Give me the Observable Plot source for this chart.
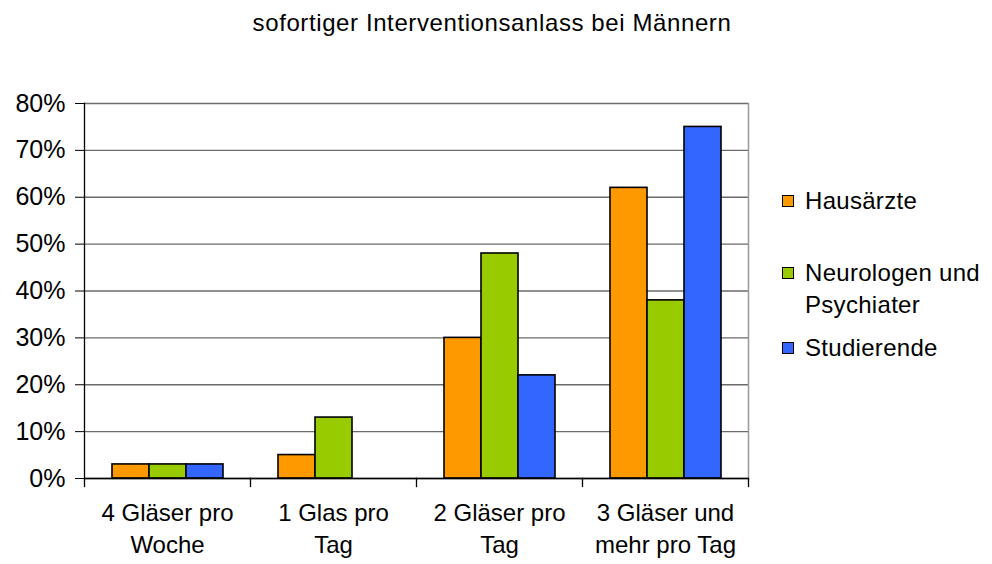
<!DOCTYPE html>
<html>
<head>
<meta charset="utf-8">
<script src="https://cdn.jsdelivr.net/npm/d3@7"></script>
<script src="https://cdn.jsdelivr.net/npm/@observablehq/plot@0.6"></script>
<style>
  html, body { margin: 0; padding: 0; background: #fff; }
  #wrap { position: relative; width: 992px; height: 564px; font-family: "Liberation Sans", Arial, sans-serif; color: #000; }
  #wrap svg { position: absolute; left: 0; top: 0; }
  #title { position: absolute; left: 0; width: 984px; top: 11px; text-align: center; font-size: 24px; line-height: 24px; letter-spacing: 0.6px; }
  .leg { position: absolute; left: 782px; font-size: 24px; line-height: 32px; letter-spacing: 0.3px; }
  .leg .sw { position: absolute; left: 0; top: 10px; width: 10px; height: 10px; border: 1.5px solid #000; }
  .leg .tx { position: absolute; left: 23px; top: 0; width: 195px; }
</style>
</head>
<body>
<div id="wrap">
  <div id="title">sofortiger Interventionsanlass bei Männern</div>
</div>
<script>
const titleText = "sofortiger Interventionsanlass bei Männern";
const categories = ["4 Gläser pro\nWoche", "1 Glas pro\nTag", "2 Gläser pro\nTag", "3 Gläser und\nmehr pro Tag"];
const series = ["Hausärzte", "Neurologen und Psychiater", "Studierende"];
const hausaerzte = [3, 5, 30, 62];
const neurologen = [3, 13, 48, 38];
const studierende = [3, null, 22, 75];
const yTicks = [0, 10, 20, 30, 40, 50, 60, 70, 80];
const colors = ["#FF9900", "#99CC00", "#3366FF"];

const values = [hausaerzte, neurologen, studierende];
const data = [];
categories.forEach((c, i) => series.forEach((s, j) => {
  if (values[j][i] != null) data.push({category: c, series: s, value: values[j][i]});
}));

const W = 992, H = 564, mT = 103, mB = 86, mL = 82, mR = 243;
const plotH = H - mT - mB;

const chart = Plot.plot({
  width: W, height: H,
  marginLeft: mL, marginRight: mR, marginTop: mT, marginBottom: mB,
  style: {fontFamily: "Liberation Sans, Arial, sans-serif", fontSize: "24px", background: "transparent", color: "#000"},
  fx: {domain: categories, padding: 0, label: null},
  x: {domain: series, paddingInner: 0, paddingOuter: 0.74, axis: null},
  y: {domain: [0, 80], label: null},
  color: {domain: series, range: colors},
  marks: [
    Plot.ruleY(yTicks, {y: d => d, stroke: "#6b6b6b", strokeWidth: 1.3}),
    Plot.barY(data, {fx: "category", x: "series", y: "value", fill: "series", stroke: "#000", strokeWidth: 1.6}),
    Plot.axisY({ticks: yTicks, tickFormat: d => d + "%", tickSize: 9, tickPadding: 10, label: null, stroke: "#000", fontSize: 25}),
    Plot.axisFx({anchor: "bottom", tickSize: 0, tickPadding: 20, lineHeight: 1.333, label: null}),
    Plot.frame({anchor: "left", facetAnchor: "left", stroke: "#000", strokeWidth: 1.3}),
    Plot.frame({anchor: "right", facetAnchor: "right", stroke: "#999", strokeWidth: 1.5}),
    Plot.frame({anchor: "bottom", stroke: "#000", strokeWidth: 1.3}),
    Plot.frame({anchor: "left", insetTop: plotH, insetBottom: -8, stroke: "#000", strokeWidth: 1.3}),
    Plot.frame({anchor: "right", facetAnchor: "right", insetTop: plotH, insetBottom: -8, stroke: "#000", strokeWidth: 1.3})
  ]
});
const wrap = document.getElementById("wrap");
wrap.appendChild(chart);

// legend
const legendTops = [185, 257, 332];
series.forEach((s, j) => {
  const item = document.createElement("div");
  item.className = "leg";
  item.style.top = legendTops[j] + "px";
  const sw = document.createElement("div");
  sw.className = "sw";
  sw.style.background = colors[j];
  const tx = document.createElement("div");
  tx.className = "tx";
  tx.textContent = s;
  item.appendChild(sw);
  item.appendChild(tx);
  wrap.appendChild(item);
});
</script>
</body>
</html>
